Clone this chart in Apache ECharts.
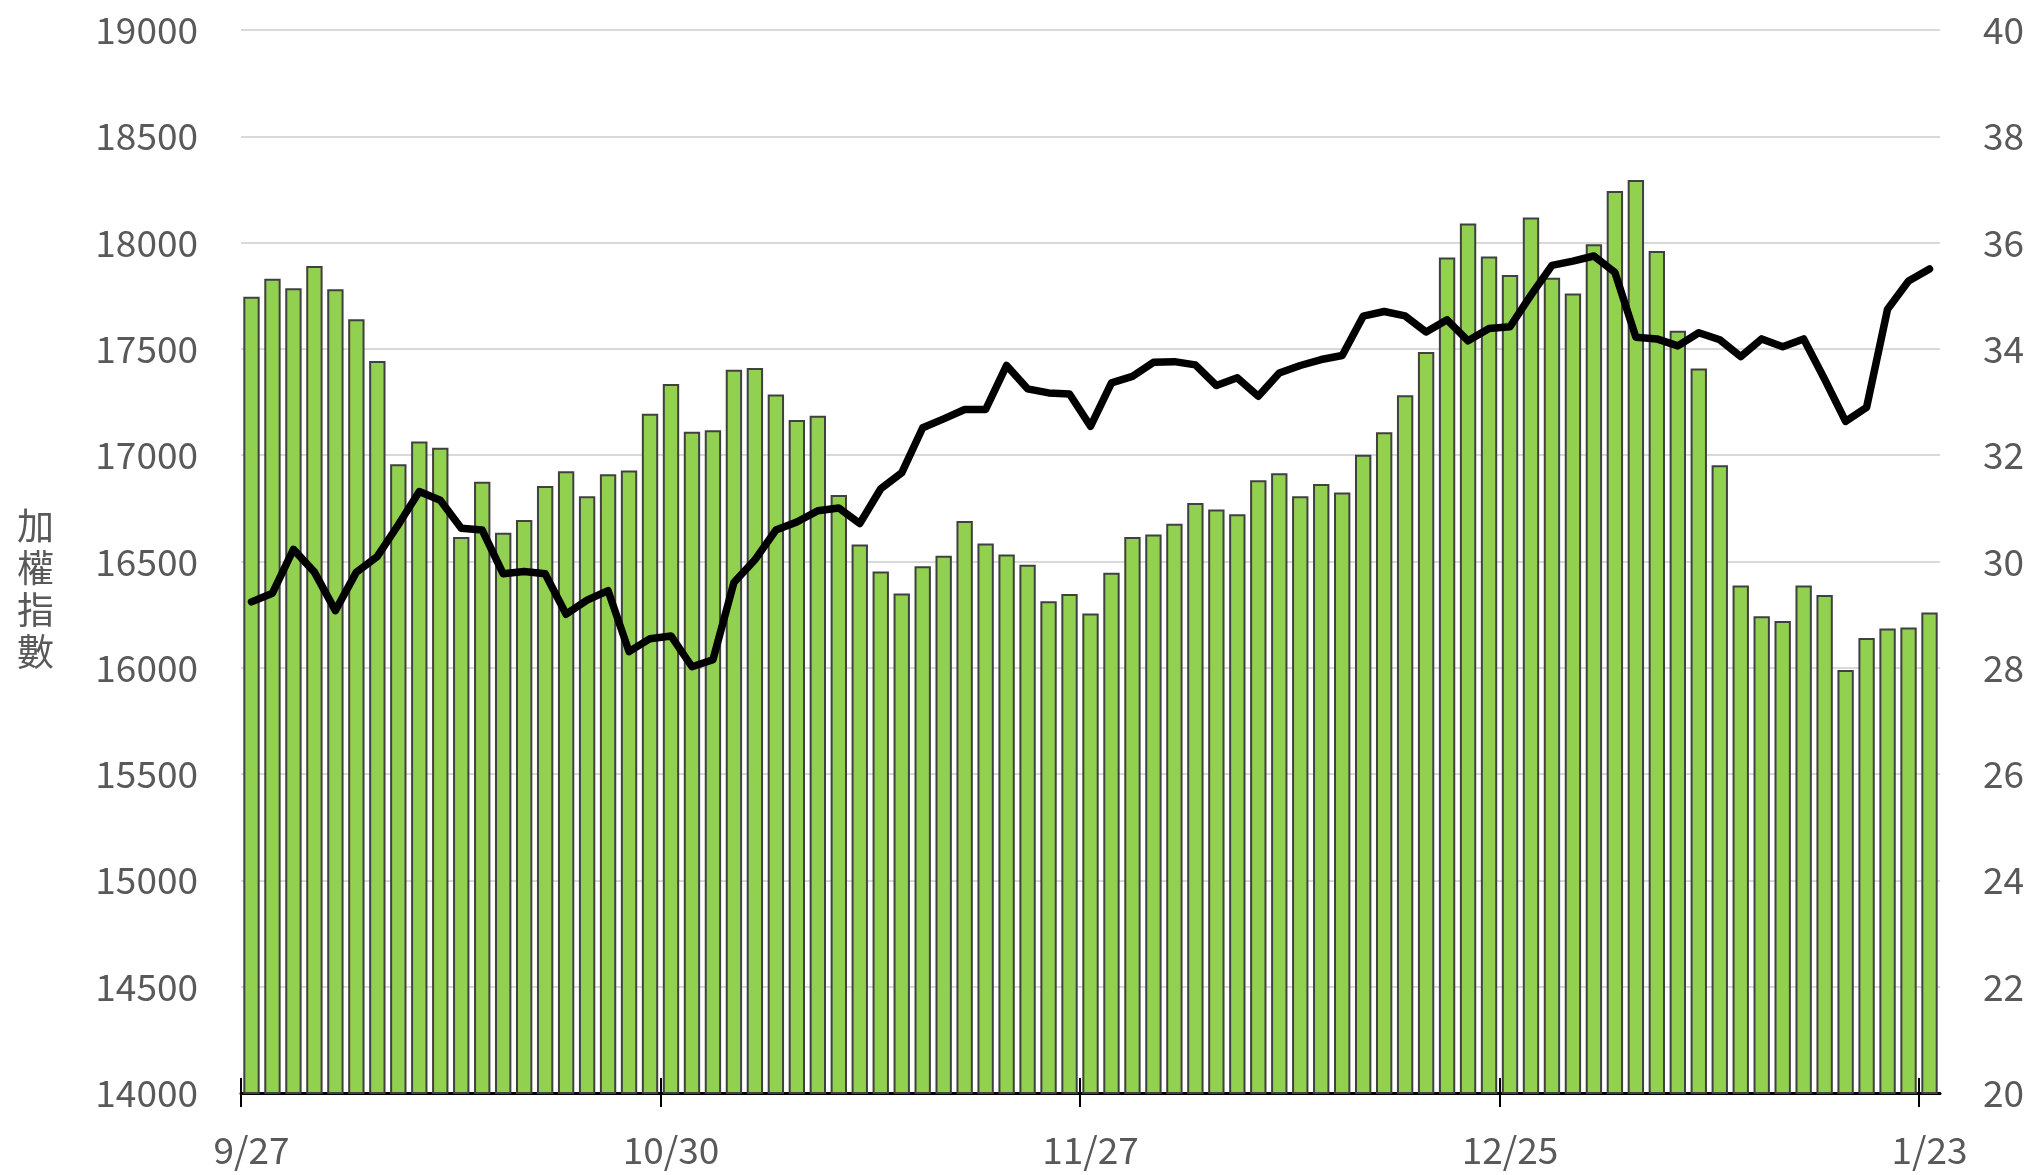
<!DOCTYPE html>
<html>
<head>
<meta charset="utf-8">
<script src="https://cdn.jsdelivr.net/npm/echarts@6/dist/echarts.min.js"></script>
<style>html,body{margin:0;padding:0;background:#fff;}#main{width:2030px;height:1175px;}</style>
</head>
<body>
<div id="main"></div>
<script>
// Trading dates (2023/9/27 – 2024/1/23)
const categories = [
 '9/27','9/28','10/2','10/3','10/4','10/5','10/6','10/11','10/12','10/13',
 '10/16','10/17','10/18','10/19','10/20','10/23','10/24','10/25','10/26','10/27',
 '10/30','10/31','11/1','11/2','11/3','11/6','11/7','11/8','11/9','11/10',
 '11/13','11/14','11/15','11/16','11/17','11/20','11/21','11/22','11/23','11/24',
 '11/27','11/28','11/29','11/30','12/1','12/4','12/5','12/6','12/7','12/8',
 '12/11','12/12','12/13','12/14','12/15','12/18','12/19','12/20','12/21','12/22',
 '12/25','12/26','12/27','12/28','12/29','1/2','1/3','1/4','1/5','1/8',
 '1/9','1/10','1/11','1/12','1/15','1/16','1/17','1/18','1/19','1/22','1/23'
];
// category indices that carry a date label and a tick
const labeledIndices = [0, 20, 40, 60, 80];
// 加權指數 (left axis) – line
const indexValues = [
 16310,16351,16557,16450,16269,16450,16524,16673,16829,16788,
 16656,16648,16442,16453,16442,16252,16318,16363,16076,16137,
 16150,16005,16038,16401,16508,16648,16686,16739,16752,16679,
 16842,16917,17129,17171,17215,17215,17422,17312,17293,17288,
 17136,17340,17371,17437,17440,17425,17328,17364,17277,17387,
 17422,17450,17469,17654,17676,17655,17580,17637,17538,17596,
 17604,17753,17893,17913,17937,17860,17555,17547,17514,17576,
 17543,17464,17547,17510,17547,17357,17159,17225,17687,17819,17876
];
// right axis – bars
const barValues = [
 34.98,35.32,35.14,35.56,35.12,34.56,33.77,31.83,32.26,32.14,
 30.46,31.50,30.54,30.78,31.42,31.70,31.23,31.64,31.71,32.78,
 33.34,32.44,32.47,33.61,33.64,33.14,32.66,32.74,31.25,30.32,
 29.81,29.40,29.91,30.11,30.76,30.34,30.13,29.94,29.25,29.39,
 29.02,29.79,30.46,30.51,30.71,31.10,30.98,30.89,31.53,31.66,
 31.23,31.46,31.30,32.01,32.43,33.13,33.94,35.72,36.36,35.74,
 35.39,36.47,35.34,35.04,35.97,36.97,37.18,35.84,34.34,33.63,
 31.81,29.55,28.97,28.88,29.55,29.37,27.96,28.56,28.74,28.76,29.04
];
const leftAxisTitle = '加權指數';

const FONT = '"Noto Sans CJK TC","Noto Sans",sans-serif';
const TXT = '#595959';
const labelSet = new Set(labeledIndices);

function tickAxis(inside, len) {
  return {
    type: 'value', position: 'bottom', min: 0, max: categories.length,
    axisLine: {show: false},
    axisTick: {show: true, inside: inside, length: len, customValues: labeledIndices,
               lineStyle: {color: '#000', width: 2}},
    axisLabel: {show: false},
    splitLine: {show: false}
  };
}

const chart = echarts.init(document.getElementById('main'), null, {renderer: 'canvas'});
chart.setOption({
  animation: false,
  backgroundColor: '#ffffff',
  textStyle: {fontFamily: FONT},
  grid: {left: 241, right: 90, top: 30, bottom: 82, containLabel: false},
  xAxis: [
    {
      type: 'category', data: categories, position: 'bottom', boundaryGap: true,
      axisLine: {show: true, lineStyle: {color: '#000', width: 3}},
      axisTick: {show: false},
      axisLabel: {interval: (i) => labelSet.has(i), color: TXT, fontSize: 37, fontFamily: FONT, margin: 38},
      splitLine: {show: false}
    },
    tickAxis(false, 14),
    tickAxis(true, 15)
  ],
  yAxis: [
    {
      type: 'value', min: 14000, max: 19000, interval: 500, position: 'left',
      axisLine: {show: false}, axisTick: {show: false},
      axisLabel: {color: TXT, fontSize: 37, fontFamily: FONT, margin: 43, formatter: (v) => String(v)},
      splitLine: {show: true, lineStyle: {color: '#d9d9d9', width: 2}}
    },
    {
      type: 'value', min: 20, max: 40, interval: 2, position: 'right',
      axisLine: {show: false}, axisTick: {show: false},
      axisLabel: {color: TXT, fontSize: 37, fontFamily: FONT, margin: 43, formatter: (v) => String(v)},
      splitLine: {show: false}
    }
  ],
  graphic: [{
    type: 'text', left: 17, top: 505,
    style: {text: leftAxisTitle.split('').join('\n'), fill: TXT, font: '37px ' + FONT, lineHeight: 42}
  }],
  series: [
    {
      type: 'bar', data: barValues, xAxisIndex: 0, yAxisIndex: 1,
      barCategoryGap: '22%',
      itemStyle: {color: '#92D050', borderColor: '#404040', borderWidth: 2},
      z: 2
    },
    {
      type: 'line', data: indexValues, xAxisIndex: 0, yAxisIndex: 0,
      symbol: 'none', smooth: false,
      lineStyle: {color: '#000', width: 7.5, join: 'round', cap: 'round'},
      z: 3
    }
  ]
});
</script>
</body>
</html>
